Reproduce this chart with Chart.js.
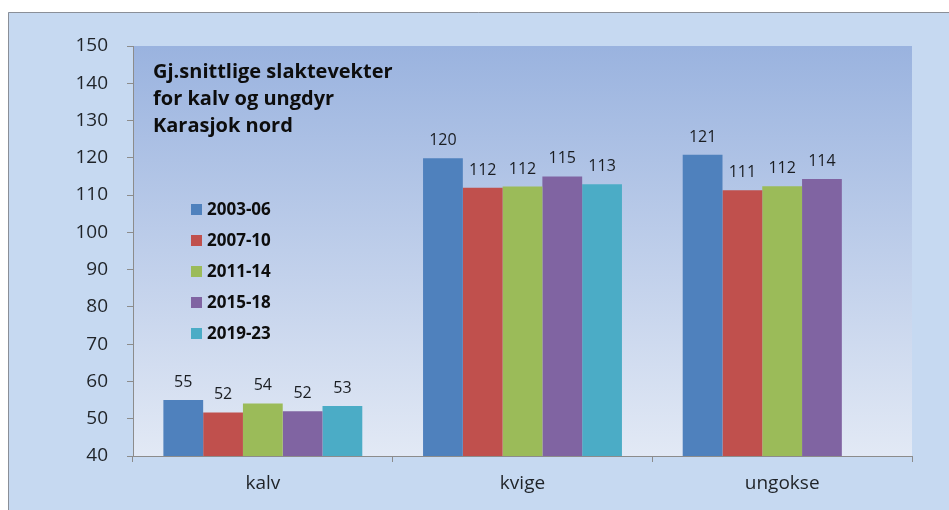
<!DOCTYPE html>
<html>
<head>
<meta charset="utf-8">
<script src="https://cdn.jsdelivr.net/npm/chart.js@4.4.0/dist/chart.umd.min.js"></script>
<style>
  html, body { margin: 0; padding: 0; background: #fff; }
  #wrap { position: absolute; left: 0; top: 0; width: 949px; height: 510px; }
</style>
</head>
<body>
<div id="wrap"><canvas id="chart" width="949" height="510"></canvas></div>
<script>
const categories = ['kalv', 'kvige', 'ungokse'];
const periods = ['2003-06', '2007-10', '2011-14', '2015-18', '2019-23'];
const colors = ['#4f81bd', '#c0504d', '#9bbb59', '#8064a2', '#4bacc6'];
const values2003 = [55, 119.9, 120.8];
const values2007 = [51.7, 112, 111.3];
const values2011 = [54.1, 112.3, 112.4];
const values2015 = [52, 115, 114.3];
const values2019 = [53.4, 112.9, null];
const titleLines = ['Gj.snittlige slaktevekter', 'for kalv og ungdyr', 'Karasjok nord'];

const FONT = "'Open Sans', sans-serif";
const seriesValues = [values2003, values2007, values2011, values2015, values2019];

// background frame + plot gradient
const backdrop = {
    id: 'backdrop',
    beforeDraw(chart) {
        const { ctx, chartArea: a, width, height } = chart;
        ctx.save();
        ctx.fillStyle = '#c6d9f1';
        ctx.fillRect(8, 12, width - 8, height - 12);
        ctx.strokeStyle = '#8a8f98';
        ctx.lineWidth = 1;
        ctx.beginPath();
        ctx.moveTo(8.5, height);
        ctx.lineTo(8.5, 12.5);
        ctx.lineTo(width, 12.5);
        ctx.stroke();
        const g = ctx.createLinearGradient(0, a.top, 0, a.bottom);
        g.addColorStop(0, '#9ab3df');
        g.addColorStop(1, '#e2e9f5');
        ctx.fillStyle = g;
        ctx.fillRect(a.left, a.top, a.right - a.left, a.bottom - a.top);
        ctx.restore();
    }
};

// value labels above bars
const valueLabels = {
    id: 'valueLabels',
    afterDatasetsDraw(chart) {
        const ctx = chart.ctx;
        ctx.save();
        ctx.font = '16px ' + FONT;
        ctx.fillStyle = '#1a1d22';
        ctx.textAlign = 'center';
        ctx.textBaseline = 'alphabetic';
        chart.data.datasets.forEach((ds, i) => {
            chart.getDatasetMeta(i).data.forEach((bar, j) => {
                const v = ds.data[j];
                if (v == null) return;
                ctx.fillText(Math.round(v), bar.x, bar.y - 13);
            });
        });
        ctx.restore();
    }
};

// title and legend inside plot area
const innerText = {
    id: 'innerText',
    afterDraw(chart) {
        const { ctx, chartArea: a } = chart;
        ctx.save();
        ctx.fillStyle = '#0d0d0d';
        ctx.textAlign = 'left';
        ctx.textBaseline = 'alphabetic';
        ctx.font = 'bold 20px ' + FONT;
        titleLines.forEach((t, i) => ctx.fillText(t, a.left + 20, a.top + 32 + i * 27));
        ctx.font = 'bold 17px ' + FONT;
        periods.forEach((p, i) => {
            const y = a.top + 158 + i * 31;
            ctx.fillStyle = colors[i];
            ctx.fillRect(a.left + 58, y, 11, 11);
            ctx.fillStyle = '#0d0d0d';
            ctx.fillText(p, a.left + 74, y + 11);
        });
        ctx.restore();
    }
};

new Chart(document.getElementById('chart'), {
    type: 'bar',
    data: {
        labels: categories,
        datasets: periods.map((p, i) => ({
            label: p,
            data: seriesValues[i],
            backgroundColor: colors[i],
            borderWidth: 0,
            categoryPercentage: 0.766,
            barPercentage: 1
        }))
    },
    options: {
        responsive: false,
        animation: false,
        layout: { padding: { left: 0, top: 46, right: 37, bottom: 0 } },
        plugins: { legend: { display: false }, tooltip: { enabled: false }, title: { display: false } },
        scales: {
            x: {
                offset: true,
                grid: { display: true, drawOnChartArea: false, offset: true, tickLength: 6, color: '#8c8c8c' },
                border: { color: '#8c8c8c', width: 1 },
                ticks: { color: '#1f2328', font: { family: FONT, size: 19 }, padding: 10 },
                afterFit(s) { s.height = 54; }
            },
            y: {
                min: 40, max: 150,
                ticks: { stepSize: 10, color: '#1f2328', font: { family: FONT, size: 19 }, padding: 19 },
                grid: { display: true, drawOnChartArea: false, tickLength: 6, color: '#8c8c8c' },
                border: { color: '#8c8c8c', width: 1 },
                afterFit(s) { s.width = 133; }
            }
        }
    },
    plugins: [backdrop, valueLabels, innerText]
});
</script>
</body>
</html>
